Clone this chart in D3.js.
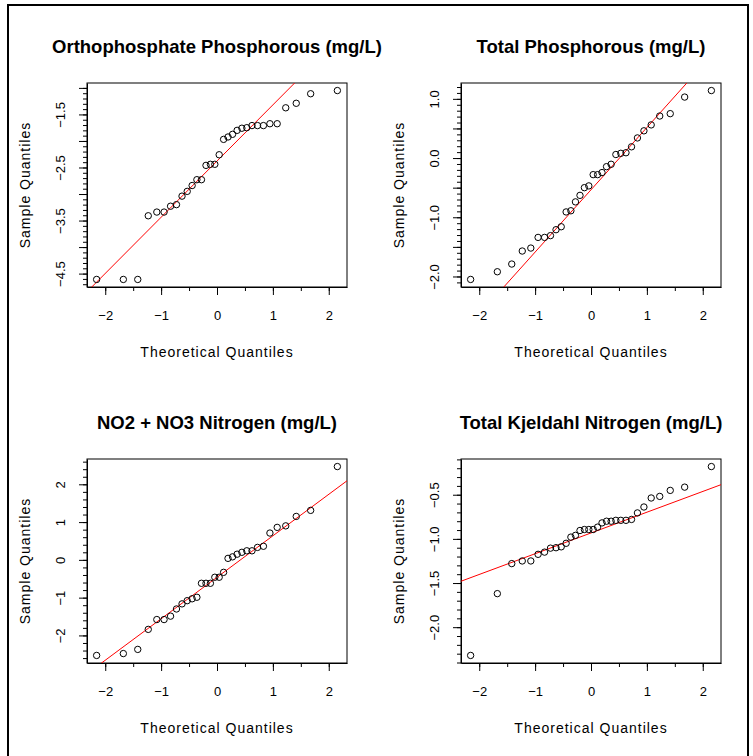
<!DOCTYPE html>
<html>
<head>
<meta charset="utf-8">
<script src="https://cdn.jsdelivr.net/npm/d3@7"></script>
<style>
  body { margin: 0; background: #fff; }
  text { font-family: "Liberation Sans", Arial, sans-serif; fill: #000; }
</style>
</head>
<body>
<svg id="chart" width="753" height="756"></svg>
<script>
// normal scores for n = 32, same x for all four panels
var theoretical = [-2.154, -1.676, -1.418, -1.230, -1.077, -0.947, -0.831, -0.725,
  -0.626, -0.533, -0.445, -0.360, -0.278, -0.197, -0.118, -0.039,
  0.039, 0.118, 0.197, 0.278, 0.360, 0.445, 0.533, 0.626,
  0.725, 0.831, 0.947, 1.077, 1.230, 1.418, 1.676, 2.154];

// sample quantiles (sorted)
var orthoP = [-4.61, -4.61, -4.61, -3.41, -3.34, -3.34, -3.23, -3.20,
  -3.04, -2.95, -2.84, -2.73, -2.73, -2.46, -2.44, -2.44,
  -2.26, -1.97, -1.925, -1.875, -1.80, -1.76, -1.75, -1.71,
  -1.71, -1.71, -1.675, -1.675, -1.375, -1.29, -1.11, -1.05];
var totalP = [-2.05, -1.92, -1.79, -1.57, -1.52, -1.34, -1.34, -1.31,
  -1.21, -1.16, -0.91, -0.89, -0.74, -0.63, -0.50, -0.47,
  -0.28, -0.28, -0.245, -0.145, -0.105, 0.06, 0.08, 0.09,
  0.19, 0.34, 0.46, 0.56, 0.71, 0.75, 1.03, 1.14];
var no2no3 = [-2.53, -2.48, -2.37, -1.84, -1.58, -1.58, -1.49, -1.30,
  -1.165, -1.08, -1.03, -0.99, -0.62, -0.62, -0.62, -0.46,
  -0.46, -0.33, 0.04, 0.08, 0.15, 0.20, 0.24, 0.24,
  0.33, 0.36, 0.71, 0.86, 0.90, 1.15, 1.31, 2.47];
var tkn = [-2.32, -1.62, -1.28, -1.25, -1.25, -1.175, -1.15, -1.105,
  -1.10, -1.09, -1.05, -0.98, -0.96, -0.905, -0.894, -0.894,
  -0.894, -0.867, -0.819, -0.80, -0.80, -0.79, -0.79, -0.79,
  -0.78, -0.706, -0.639, -0.537, -0.519, -0.451, -0.414, -0.181];

var titles = ["Orthophosphate Phosphorous (mg/L)", "Total Phosphorous (mg/L)",
  "NO2 + NO3 Nitrogen (mg/L)", "Total Kjeldahl Nitrogen (mg/L)"];

// qq reference lines: [intercept, slope]
var qqLines = [[-2.379, 1.059], [-0.536, 1.052], [-0.461, 1.098], [-0.933, 0.235]];

// y tick settings per panel
var yMajorStep = [0.5, 0.5, 1, 0.5];
var yMinorStep = [0.1, 0.1, 0.2, 0.1];
var yLabels = [[-1.5, -2.5, -3.5, -4.5], [1.0, 0.0, -1.0, -2.0], [2, 1, 0, -1, -2], [-0.5, -1.0, -1.5, -2.0]];
var xLabels = [-2, -1, 0, 1, 2];

var svg = d3.select("#chart");

svg.append("rect")
  .attr("x", 8).attr("y", 5)
  .attr("width", 740).attr("height", 770)
  .attr("fill", "none").attr("stroke", "#000").attr("stroke-width", 2);

var boxes = [
  { left: 87, top: 83 },
  { left: 461, top: 83 },
  { left: 87, top: 459 },
  { left: 461, top: 459 }
];
var boxW = 260, boxH = 204;

var series = [orthoP, totalP, no2no3, tkn];

function padded(ext) {
  var d = (ext[1] - ext[0]) * 0.04;
  return [ext[0] - d, ext[1] + d];
}

function fmt(v, step) {
  return step < 1 ? d3.format(".1f")(v) : d3.format("d")(v);
}

series.forEach(function(vals, p) {
  var b = boxes[p];
  var g = svg.append("g").attr("transform", "translate(" + b.left + "," + b.top + ")");

  var x = d3.scaleLinear().domain(padded(d3.extent(theoretical))).range([0, boxW]);
  var y = d3.scaleLinear().domain(padded(d3.extent(vals))).range([boxH, 0]);

  var clipId = "clip" + p;
  g.append("clipPath").attr("id", clipId)
    .append("rect").attr("width", boxW).attr("height", boxH);

  // minor ticks
  var xd = x.domain(), yd = y.domain();
  var xMinor = d3.range(Math.ceil(xd[0] * 2) / 2, xd[1], 0.5);
  var yMin = yMinorStep[p];
  var yMinor = d3.range(Math.ceil(yd[0] / yMin) * yMin, yd[1] + 1e-9, yMin);
  var yMaj = yMajorStep[p];
  var yMajor = d3.range(Math.ceil(yd[0] / yMaj) * yMaj, yd[1] + 1e-9, yMaj);

  g.append("g")
    .attr("transform", "translate(0," + boxH + ")")
    .call(d3.axisBottom(x).tickValues(xMinor).tickSize(4).tickFormat(""))
    .call(function(a) { a.select(".domain").remove(); });

  g.append("g")
    .call(d3.axisLeft(y).tickValues(yMinor).tickSize(4).tickFormat(""))
    .call(function(a) { a.select(".domain").remove(); });

  // major ticks
  var xAxis = g.append("g")
    .attr("transform", "translate(0," + boxH + ")")
    .call(d3.axisBottom(x).tickValues(xLabels).tickSize(8).tickSizeOuter(0)
      .tickPadding(16).tickFormat(d3.format("d")));
  xAxis.selectAll("text").attr("font-size", 13);

  var yAxis = g.append("g")
    .call(d3.axisLeft(y).tickValues(yMajor).tickSize(8).tickSizeOuter(0)
      .tickFormat(function(d) {
        var hit = yLabels[p].some(function(l) { return Math.abs(l - d) < 1e-6; });
        return hit ? fmt(d, yMaj) : "";
      }));
  yAxis.selectAll("text")
    .attr("font-size", 13)
    .attr("x", null).attr("dy", "0.35em")
    .attr("text-anchor", "middle")
    .attr("transform", "translate(-27,0) rotate(-90)");

  g.selectAll(".tick line").attr("stroke", "#000");
  g.selectAll(".domain").attr("stroke", "#000");

  // box
  g.append("rect")
    .attr("width", boxW).attr("height", boxH)
    .attr("fill", "none").attr("stroke", "#000").attr("stroke-width", 1);

  // qq line
  var ln = qqLines[p];
  g.append("line")
    .attr("clip-path", "url(#" + clipId + ")")
    .attr("x1", x(xd[0])).attr("y1", y(ln[0] + ln[1] * xd[0]))
    .attr("x2", x(xd[1])).attr("y2", y(ln[0] + ln[1] * xd[1]))
    .attr("stroke", "#ff0000").attr("stroke-width", 1);

  // points
  g.selectAll("circle.pt")
    .data(vals)
    .enter().append("circle")
    .attr("class", "pt")
    .attr("cx", function(d, i) { return x(theoretical[i]); })
    .attr("cy", function(d) { return y(d); })
    .attr("r", 3.2)
    .attr("fill", "none").attr("stroke", "#000").attr("stroke-width", 1);

  // labels
  g.append("text")
    .attr("x", boxW / 2).attr("y", -30)
    .attr("text-anchor", "middle")
    .attr("font-size", 18.5).attr("font-weight", "bold")
    .text(titles[p]);

  g.append("text")
    .attr("x", boxW / 2).attr("y", boxH + 70)
    .attr("text-anchor", "middle")
    .attr("font-size", 14).attr("letter-spacing", "1px")
    .text("Theoretical Quantiles");

  g.append("text")
    .attr("transform", "translate(-57," + (boxH / 2) + ") rotate(-90)")
    .attr("text-anchor", "middle")
    .attr("font-size", 14).attr("letter-spacing", "1px")
    .text("Sample Quantiles");
});
</script>
</body>
</html>
